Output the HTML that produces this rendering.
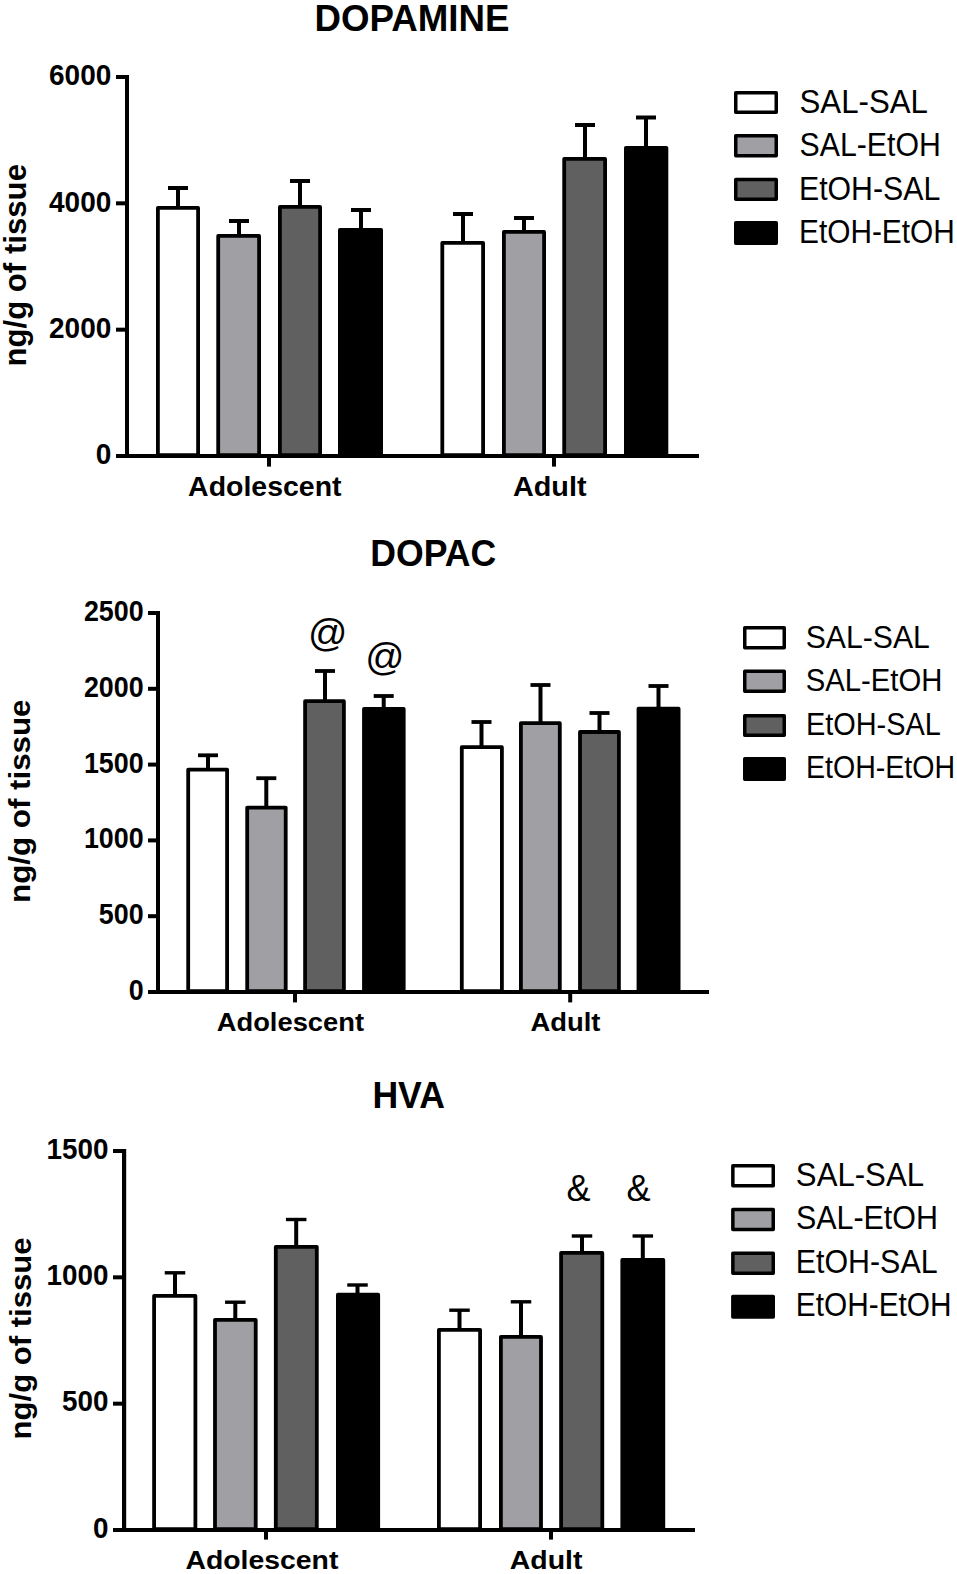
<!DOCTYPE html>
<html><head><meta charset="utf-8"><title>Figure</title>
<style>
html,body{margin:0;padding:0;background:#fff;}
svg{display:block;}
text{font-family:"Liberation Sans",Arial,sans-serif;fill:#000;}
</style></head>
<body>
<svg width="957" height="1574" viewBox="0 0 957 1574">
<rect width="957" height="1574" fill="#fff"/>
<rect x="176.00" y="188.00" width="4.00" height="20.00" fill="#000"/>
<rect x="168.00" y="186.00" width="20.00" height="4.00" fill="#000"/>
<rect x="157.90" y="207.90" width="40.20" height="247.20" fill="#fff" stroke="#000" stroke-width="3.8" stroke-linejoin="round"/>
<rect x="237.00" y="221.00" width="4.00" height="15.00" fill="#000"/>
<rect x="229.00" y="219.00" width="20.00" height="4.00" fill="#000"/>
<rect x="218.20" y="235.90" width="40.90" height="219.20" fill="#a09fa3" stroke="#000" stroke-width="3.8" stroke-linejoin="round"/>
<rect x="298.00" y="181.00" width="4.00" height="26.00" fill="#000"/>
<rect x="290.00" y="179.00" width="20.00" height="4.00" fill="#000"/>
<rect x="279.90" y="206.90" width="40.20" height="248.20" fill="#606060" stroke="#000" stroke-width="3.8" stroke-linejoin="round"/>
<rect x="359.00" y="210.00" width="4.00" height="20.00" fill="#000"/>
<rect x="351.00" y="208.00" width="20.00" height="4.00" fill="#000"/>
<rect x="339.90" y="229.90" width="41.20" height="225.20" fill="#000" stroke="#000" stroke-width="3.8" stroke-linejoin="round"/>
<rect x="461.00" y="214.00" width="4.00" height="29.00" fill="#000"/>
<rect x="453.00" y="212.00" width="20.00" height="4.00" fill="#000"/>
<rect x="442.30" y="242.90" width="40.80" height="212.20" fill="#fff" stroke="#000" stroke-width="3.8" stroke-linejoin="round"/>
<rect x="522.00" y="218.00" width="4.00" height="14.00" fill="#000"/>
<rect x="514.00" y="216.00" width="20.00" height="4.00" fill="#000"/>
<rect x="503.90" y="231.90" width="40.20" height="223.20" fill="#a09fa3" stroke="#000" stroke-width="3.8" stroke-linejoin="round"/>
<rect x="583.00" y="125.00" width="4.00" height="34.00" fill="#000"/>
<rect x="575.00" y="123.00" width="20.00" height="4.00" fill="#000"/>
<rect x="564.20" y="158.90" width="40.90" height="296.20" fill="#606060" stroke="#000" stroke-width="3.8" stroke-linejoin="round"/>
<rect x="644.00" y="117.50" width="4.00" height="30.50" fill="#000"/>
<rect x="636.00" y="115.50" width="20.00" height="4.00" fill="#000"/>
<rect x="625.90" y="147.90" width="40.50" height="307.20" fill="#000" stroke="#000" stroke-width="3.8" stroke-linejoin="round"/>
<rect x="125.00" y="75.00" width="4.00" height="383.00" fill="#000"/>
<rect x="116.00" y="454.00" width="583.00" height="4.00" fill="#000"/>
<rect x="116.00" y="75.00" width="10.00" height="4.00" fill="#000"/>
<rect x="116.00" y="201.33" width="10.00" height="4.00" fill="#000"/>
<rect x="116.00" y="327.67" width="10.00" height="4.00" fill="#000"/>
<rect x="116.00" y="454.00" width="10.00" height="4.00" fill="#000"/>
<rect x="267.00" y="456.00" width="4.00" height="10.60" fill="#000"/>
<rect x="552.00" y="456.00" width="4.00" height="10.60" fill="#000"/>
<text transform="translate(49.04,85.30) scale(0.9578,1)" font-size="29.2" font-weight="bold">6000</text>
<text transform="translate(49.04,211.63) scale(0.9578,1)" font-size="29.2" font-weight="bold">4000</text>
<text transform="translate(49.04,337.97) scale(0.9578,1)" font-size="29.2" font-weight="bold">2000</text>
<text transform="translate(95.73,464.30) scale(0.9578,1)" font-size="29.2" font-weight="bold">0</text>
<rect x="206.00" y="755.30" width="4.00" height="14.40" fill="#000"/>
<rect x="198.00" y="753.40" width="20.00" height="3.80" fill="#000"/>
<rect x="188.20" y="769.60" width="38.90" height="221.50" fill="#fff" stroke="#000" stroke-width="3.8" stroke-linejoin="round"/>
<rect x="264.30" y="778.20" width="4.00" height="29.50" fill="#000"/>
<rect x="256.30" y="776.30" width="20.00" height="3.80" fill="#000"/>
<rect x="247.20" y="807.60" width="38.50" height="183.50" fill="#a09fa3" stroke="#000" stroke-width="3.8" stroke-linejoin="round"/>
<rect x="323.00" y="671.00" width="4.00" height="30.30" fill="#000"/>
<rect x="315.00" y="669.10" width="20.00" height="3.80" fill="#000"/>
<rect x="305.10" y="701.20" width="38.80" height="289.90" fill="#606060" stroke="#000" stroke-width="3.8" stroke-linejoin="round"/>
<rect x="381.70" y="696.00" width="4.00" height="13.10" fill="#000"/>
<rect x="373.70" y="694.10" width="20.00" height="3.80" fill="#000"/>
<rect x="364.00" y="709.00" width="39.70" height="282.10" fill="#000" stroke="#000" stroke-width="3.8" stroke-linejoin="round"/>
<rect x="479.50" y="722.00" width="4.00" height="25.30" fill="#000"/>
<rect x="471.50" y="720.10" width="20.00" height="3.80" fill="#000"/>
<rect x="461.80" y="747.20" width="40.10" height="243.90" fill="#fff" stroke="#000" stroke-width="3.8" stroke-linejoin="round"/>
<rect x="538.50" y="685.00" width="4.00" height="38.30" fill="#000"/>
<rect x="530.50" y="683.10" width="20.00" height="3.80" fill="#000"/>
<rect x="520.90" y="723.20" width="38.90" height="267.90" fill="#a09fa3" stroke="#000" stroke-width="3.8" stroke-linejoin="round"/>
<rect x="597.50" y="713.00" width="4.00" height="19.10" fill="#000"/>
<rect x="589.50" y="711.10" width="20.00" height="3.80" fill="#000"/>
<rect x="580.00" y="732.00" width="38.90" height="259.10" fill="#606060" stroke="#000" stroke-width="3.8" stroke-linejoin="round"/>
<rect x="656.50" y="686.00" width="4.00" height="22.70" fill="#000"/>
<rect x="648.50" y="684.10" width="20.00" height="3.80" fill="#000"/>
<rect x="638.50" y="708.60" width="40.10" height="282.50" fill="#000" stroke="#000" stroke-width="3.8" stroke-linejoin="round"/>
<rect x="156.00" y="611.00" width="4.00" height="383.00" fill="#000"/>
<rect x="148.00" y="990.00" width="561.00" height="4.00" fill="#000"/>
<rect x="148.00" y="611.00" width="9.00" height="4.00" fill="#000"/>
<rect x="148.00" y="686.80" width="9.00" height="4.00" fill="#000"/>
<rect x="148.00" y="762.60" width="9.00" height="4.00" fill="#000"/>
<rect x="148.00" y="838.40" width="9.00" height="4.00" fill="#000"/>
<rect x="148.00" y="914.20" width="9.00" height="4.00" fill="#000"/>
<rect x="148.00" y="990.00" width="9.00" height="4.00" fill="#000"/>
<rect x="293.00" y="992.00" width="4.00" height="10.40" fill="#000"/>
<rect x="568.20" y="992.00" width="4.00" height="10.40" fill="#000"/>
<text transform="translate(83.88,621.05) scale(0.9195,1)" font-size="29.2" font-weight="bold">2500</text>
<text transform="translate(83.88,696.85) scale(0.9195,1)" font-size="29.2" font-weight="bold">2000</text>
<text transform="translate(83.88,772.65) scale(0.9195,1)" font-size="29.2" font-weight="bold">1500</text>
<text transform="translate(83.88,848.45) scale(0.9195,1)" font-size="29.2" font-weight="bold">1000</text>
<text transform="translate(98.82,924.25) scale(0.9195,1)" font-size="29.2" font-weight="bold">500</text>
<text transform="translate(128.71,1000.05) scale(0.9195,1)" font-size="29.2" font-weight="bold">0</text>
<rect x="173.00" y="1272.80" width="4.00" height="23.10" fill="#000"/>
<rect x="164.75" y="1271.10" width="20.50" height="3.40" fill="#000"/>
<rect x="154.10" y="1295.80" width="41.30" height="233.30" fill="#fff" stroke="#000" stroke-width="3.8" stroke-linejoin="round"/>
<rect x="233.30" y="1302.20" width="4.00" height="17.70" fill="#000"/>
<rect x="225.05" y="1300.50" width="20.50" height="3.40" fill="#000"/>
<rect x="215.00" y="1319.80" width="40.70" height="209.30" fill="#a09fa3" stroke="#000" stroke-width="3.8" stroke-linejoin="round"/>
<rect x="294.20" y="1219.50" width="4.00" height="27.40" fill="#000"/>
<rect x="285.95" y="1217.80" width="20.50" height="3.40" fill="#000"/>
<rect x="275.80" y="1246.80" width="41.00" height="282.30" fill="#606060" stroke="#000" stroke-width="3.8" stroke-linejoin="round"/>
<rect x="355.50" y="1285.00" width="4.00" height="9.80" fill="#000"/>
<rect x="347.25" y="1283.30" width="20.50" height="3.40" fill="#000"/>
<rect x="337.90" y="1294.70" width="40.30" height="234.40" fill="#000" stroke="#000" stroke-width="3.8" stroke-linejoin="round"/>
<rect x="457.50" y="1310.20" width="4.00" height="19.70" fill="#000"/>
<rect x="449.25" y="1308.50" width="20.50" height="3.40" fill="#000"/>
<rect x="438.90" y="1329.80" width="41.20" height="199.30" fill="#fff" stroke="#000" stroke-width="3.8" stroke-linejoin="round"/>
<rect x="519.00" y="1301.80" width="4.00" height="35.20" fill="#000"/>
<rect x="510.75" y="1300.10" width="20.50" height="3.40" fill="#000"/>
<rect x="500.90" y="1336.90" width="40.10" height="192.20" fill="#a09fa3" stroke="#000" stroke-width="3.8" stroke-linejoin="round"/>
<rect x="580.00" y="1236.00" width="4.00" height="17.00" fill="#000"/>
<rect x="571.75" y="1234.30" width="20.50" height="3.40" fill="#000"/>
<rect x="561.10" y="1252.90" width="41.20" height="276.20" fill="#606060" stroke="#000" stroke-width="3.8" stroke-linejoin="round"/>
<rect x="640.80" y="1236.00" width="4.00" height="24.00" fill="#000"/>
<rect x="632.55" y="1234.30" width="20.50" height="3.40" fill="#000"/>
<rect x="622.30" y="1259.90" width="41.00" height="269.20" fill="#000" stroke="#000" stroke-width="3.8" stroke-linejoin="round"/>
<rect x="122.00" y="1149.00" width="4.20" height="383.00" fill="#000"/>
<rect x="113.00" y="1528.00" width="582.00" height="4.00" fill="#000"/>
<rect x="113.00" y="1149.00" width="10.00" height="4.00" fill="#000"/>
<rect x="113.00" y="1275.33" width="10.00" height="4.00" fill="#000"/>
<rect x="113.00" y="1401.67" width="10.00" height="4.00" fill="#000"/>
<rect x="113.00" y="1528.00" width="10.00" height="4.00" fill="#000"/>
<rect x="264.00" y="1530.00" width="4.00" height="9.60" fill="#000"/>
<rect x="549.00" y="1530.00" width="4.00" height="9.60" fill="#000"/>
<text transform="translate(46.53,1158.75) scale(0.9532,1)" font-size="29.2" font-weight="bold">1500</text>
<text transform="translate(46.53,1285.08) scale(0.9532,1)" font-size="29.2" font-weight="bold">1000</text>
<text transform="translate(62.02,1411.42) scale(0.9532,1)" font-size="29.2" font-weight="bold">500</text>
<text transform="translate(93.00,1537.75) scale(0.9532,1)" font-size="29.2" font-weight="bold">0</text>
<text transform="translate(314.54,30.70) scale(0.9838,1)" font-size="37.3" font-weight="bold">DOPAMINE</text>
<text transform="translate(370.31,566.40) scale(0.9541,1)" font-size="37.3" font-weight="bold">DOPAC</text>
<text transform="translate(372.41,1107.60) scale(0.9545,1)" font-size="37.3" font-weight="bold">HVA</text>
<text transform="translate(188.11,495.55) scale(1.0547,1)" font-size="27.0" font-weight="bold">Adolescent</text>
<text transform="translate(513.00,495.55) scale(1.0662,1)" font-size="27.0" font-weight="bold">Adult</text>
<text transform="translate(216.73,1031.35) scale(1.0321,1)" font-size="26.5" font-weight="bold">Adolescent</text>
<text transform="translate(530.52,1031.35) scale(1.0337,1)" font-size="26.5" font-weight="bold">Adult</text>
<text transform="translate(185.40,1569.15) scale(1.0716,1)" font-size="26.5" font-weight="bold">Adolescent</text>
<text transform="translate(509.79,1569.15) scale(1.0742,1)" font-size="26.5" font-weight="bold">Adult</text>
<text transform="translate(26.00,366.61) rotate(-90) scale(1.0060,1)" font-size="31" font-weight="bold">ng/g of tissue</text>
<text transform="translate(29.90,902.99) rotate(-90) scale(1.0437,1)" font-size="30" font-weight="bold">ng/g of tissue</text>
<text transform="translate(30.70,1439.47) rotate(-90) scale(1.0365,1)" font-size="30" font-weight="bold">ng/g of tissue</text>
<rect x="735.75" y="92.75" width="40.50" height="19.50" fill="#fff" stroke="#000" stroke-width="3.5" stroke-linejoin="round"/>
<text transform="translate(799.47,112.90) scale(0.9553,1)" font-size="32.7" font-weight="normal">SAL-SAL</text>
<rect x="735.75" y="135.75" width="40.50" height="20.00" fill="#a09fa3" stroke="#000" stroke-width="3.5" stroke-linejoin="round"/>
<text transform="translate(799.51,156.30) scale(0.9259,1)" font-size="32.7" font-weight="normal">SAL-EtOH</text>
<rect x="735.75" y="179.55" width="40.50" height="19.70" fill="#606060" stroke="#000" stroke-width="3.5" stroke-linejoin="round"/>
<text transform="translate(798.95,199.60) scale(0.9257,1)" font-size="32.7" font-weight="normal">EtOH-SAL</text>
<rect x="735.75" y="222.75" width="40.50" height="20.50" fill="#000" stroke="#000" stroke-width="3.5" stroke-linejoin="round"/>
<text transform="translate(798.99,243.00) scale(0.9126,1)" font-size="32.7" font-weight="normal">EtOH-EtOH</text>
<rect x="744.75" y="627.85" width="39.50" height="20.00" fill="#fff" stroke="#000" stroke-width="3.5" stroke-linejoin="round"/>
<text transform="translate(805.68,647.70) scale(0.9497,1)" font-size="31.8" font-weight="normal">SAL-SAL</text>
<rect x="744.75" y="671.15" width="39.50" height="20.10" fill="#a09fa3" stroke="#000" stroke-width="3.5" stroke-linejoin="round"/>
<text transform="translate(805.72,691.20) scale(0.9213,1)" font-size="31.8" font-weight="normal">SAL-EtOH</text>
<rect x="744.75" y="715.75" width="39.50" height="19.50" fill="#606060" stroke="#000" stroke-width="3.5" stroke-linejoin="round"/>
<text transform="translate(805.93,734.60) scale(0.9090,1)" font-size="31.8" font-weight="normal">EtOH-SAL</text>
<rect x="744.75" y="758.75" width="39.50" height="20.50" fill="#000" stroke="#000" stroke-width="3.5" stroke-linejoin="round"/>
<text transform="translate(805.95,778.00) scale(0.8988,1)" font-size="31.8" font-weight="normal">EtOH-EtOH</text>
<rect x="732.85" y="1165.85" width="40.40" height="20.00" fill="#fff" stroke="#000" stroke-width="3.5" stroke-linejoin="round"/>
<text transform="translate(795.86,1185.90) scale(0.9585,1)" font-size="32.5" font-weight="normal">SAL-SAL</text>
<rect x="732.85" y="1209.45" width="40.40" height="20.00" fill="#a09fa3" stroke="#000" stroke-width="3.5" stroke-linejoin="round"/>
<text transform="translate(795.89,1229.40) scale(0.9369,1)" font-size="32.5" font-weight="normal">SAL-EtOH</text>
<rect x="732.85" y="1253.25" width="40.40" height="20.00" fill="#606060" stroke="#000" stroke-width="3.5" stroke-linejoin="round"/>
<text transform="translate(795.73,1272.90) scale(0.9351,1)" font-size="32.5" font-weight="normal">EtOH-SAL</text>
<rect x="732.85" y="1296.55" width="40.40" height="20.50" fill="#000" stroke="#000" stroke-width="3.5" stroke-linejoin="round"/>
<text transform="translate(795.78,1316.40) scale(0.9181,1)" font-size="32.5" font-weight="normal">EtOH-EtOH</text>
<text transform="translate(308.05,646.12) scale(0.9837,0.9956)" font-size="39.5">@</text>
<text transform="translate(365.15,669.52) scale(0.9821,0.9971)" font-size="39.3">@</text>
<text transform="translate(566.39,1200.60) scale(0.9696,0.9943)" font-size="37.2">&amp;</text>
<text transform="translate(626.48,1200.60) scale(0.9739,0.9943)" font-size="37.2">&amp;</text>
</svg>
</body></html>
